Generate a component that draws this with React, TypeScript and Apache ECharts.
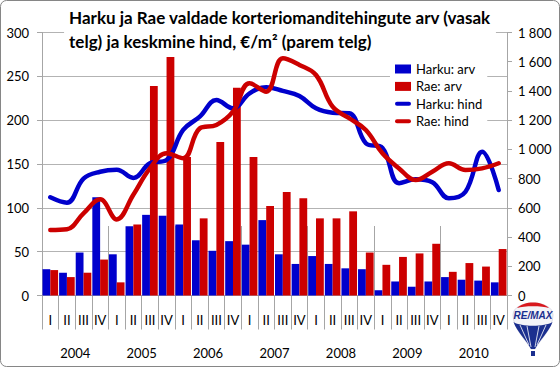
import React, { useEffect, useRef } from 'react';
import * as echarts from 'echarts';

const quarters = ['I','II','III','IV','I','II','III','IV','I','II','III','IV','I','II','III','IV','I','II','III','IV','I','II','III','IV','I','II','III','IV'];
const years = ['2004','2005','2006','2007','2008','2009','2010'];
const harkuArv = [30,26,49,112,47,79,92,91,81,63,51,62,58,86,47,36,45,36,31,30,6,16,10,16,21,18,17,15];
const raeArv = [29,21,26,41,15,81,239,272,158,88,175,237,158,102,118,111,88,88,96,49,35,44,48,59,27,37,33,53];
const harkuHind = [672,635,800,847,860,805,905,927,1133,1224,1338,1281,1384,1425,1400,1365,1281,1251,1247,1042,1010,768,795,775,665,710,984,722];
const raeHind = [448,453,562,658,521,690,870,973,939,1144,1167,1258,1452,1395,1623,1578,1509,1292,1213,1133,973,870,790,847,905,859,870,905];

const FONT = 'Lato';
const BLUE = '#0000CC';
const RED = '#CC0000';
const LINE_ICON = 'path://M2,0 L14,0 A2,2 0 0 1 14,4 L2,4 A2,2 0 0 1 2,0 Z';

let registered = false;
function registerShapes() {
  if (registered) return;
  registered = true;
  echarts.graphic.registerShape('balloonBody', echarts.graphic.extendPath('M -20 14 C -20 -2 20 -2 20 14 C 20 28 6 40 2 48 L -2 48 C -6 40 -20 28 -20 14 Z', {}));
  echarts.graphic.registerShape('balloonCap', echarts.graphic.extendPath('M -16 7 C -9 -0.5 9 -0.5 16 7 C 9 4.5 -9 4.5 -16 7 Z', {}));
  echarts.graphic.registerShape('balloonLow', echarts.graphic.extendPath('M -19.5 21 C -12 26 12 26 19.5 21 C 16 31 6 40 2 48 L -2 48 C -6 40 -16 31 -19.5 21 Z', {}));
}

function fmtRight(v: number) {
  if (v >= 1000) return Math.floor(v / 1000) + ' ' + String(v % 1000).padStart(3, '0');
  return String(v);
}

export default function App() {
  const ref = useRef<HTMLDivElement>(null);
  useEffect(() => {
    if (!ref.current) return;
    registerShapes();
    const chart = echarts.init(ref.current, null, { renderer: 'svg' });
    const axisColor = '#a6a6a6';
    chart.setOption({
      animation: false,
      textStyle: { fontFamily: FONT },
      title: {
        text: 'Harku ja Rae valdade korteriomanditehingute arv (vasak\ntelg) ja keskmine hind, €/m² (parem telg)',
        left: 'center',
        top: 5,
        padding: [0, 5, 0, 5],
        backgroundColor: '#fff',
        textStyle: { fontFamily: FONT, fontSize: 17, fontWeight: 'bold', color: '#000', lineHeight: 24, align: 'center' },
        textAlign: 'left',
      },
      legend: {
        orient: 'vertical',
        left: 390,
        top: 59,
        padding: [3, 5, 3, 5],
        backgroundColor: '#fff',
        itemWidth: 16,
        itemHeight: 9,
        itemGap: 3.4,
        textStyle: { fontFamily: FONT, fontSize: 13, color: '#000', lineHeight: 14 },
        data: [
          { name: 'Harku: arv', icon: 'rect' },
          { name: 'Rae: arv', icon: 'rect' },
          { name: 'Harku: hind', icon: LINE_ICON, itemStyle: { color: BLUE } },
          { name: 'Rae: hind', icon: LINE_ICON, itemStyle: { color: RED } },
        ],
      },
      grid: { left: 42, right: 53, top: 32.5, bottom: 71.5 },
      xAxis: [
        {
          type: 'category',
          data: quarters,
          axisLine: { show: true, lineStyle: { color: axisColor } },
          axisTick: { show: true, alignWithLabel: false, interval: 0, length: 34, lineStyle: { color: axisColor } },
          axisLabel: { interval: 0, margin: 18, fontSize: 13, color: '#000', fontFamily: FONT },
        },
        {
          type: 'category',
          data: years,
          position: 'bottom',
          offset: 69.5,
          axisLine: { show: false },
          axisTick: { show: true, inside: true, alignWithLabel: false, interval: 0, length: 69.5, lineStyle: { color: axisColor } },
          axisLabel: { inside: true, interval: 0, margin: 6, fontSize: 13, color: '#000', fontFamily: FONT },
        },
      ],
      yAxis: [
        {
          type: 'value',
          min: 0,
          max: 300,
          interval: 50,
          axisLine: { show: true, lineStyle: { color: axisColor } },
          axisTick: { show: true, length: 5, lineStyle: { color: axisColor } },
          axisLabel: { fontSize: 13, color: '#000', margin: 13, fontFamily: FONT },
          splitLine: { show: true, lineStyle: { color: '#b3b3b3' } },
        },
        {
          type: 'value',
          min: 0,
          max: 1800,
          interval: 200,
          position: 'right',
          axisLine: { show: true, lineStyle: { color: axisColor } },
          axisTick: { show: true, length: 5, lineStyle: { color: axisColor } },
          axisLabel: { fontSize: 13, color: '#000', margin: 11, fontFamily: FONT, formatter: fmtRight },
          splitLine: { show: false },
        },
      ],
      series: [
        { name: 'Harku: arv', type: 'bar', data: harkuArv, xAxisIndex: 0, yAxisIndex: 0, barGap: '0%', barCategoryGap: '6%', itemStyle: { color: BLUE } },
        { name: 'Rae: arv', type: 'bar', data: raeArv, xAxisIndex: 0, yAxisIndex: 0, barGap: '0%', barCategoryGap: '6%', itemStyle: { color: RED } },
        { name: 'Harku: hind', type: 'line', data: harkuHind, xAxisIndex: 0, yAxisIndex: 1, smooth: 0.4, symbol: 'none', showSymbol: false, lineStyle: { color: BLUE, width: 4.5, cap: 'round' }, itemStyle: { color: BLUE } },
        { name: 'Rae: hind', type: 'line', data: raeHind, xAxisIndex: 0, yAxisIndex: 1, smooth: 0.4, symbol: 'none', showSymbol: false, lineStyle: { color: RED, width: 4.5, cap: 'round' }, itemStyle: { color: RED } },
      ],
      graphic: [
        { type: 'rect', shape: { x: 0.5, y: 0.5, width: 559, height: 366, r: 6 }, style: { fill: 'none', stroke: '#868686', lineWidth: 1 }, z: 100 },
        {
          type: 'group',
          x: 533,
          y: 301,
          z: 100,
          children: [
            { type: 'balloonBody', style: { fill: '#f4f4f8', stroke: '#c8c8d8', lineWidth: 0.6 } },
            { type: 'balloonCap', style: { fill: '#d8181e' } },
            { type: 'balloonLow', style: { fill: '#1b2f8f' } },
            { type: 'line', shape: { x1: -6, y1: 25, x2: -2, y2: 46 }, style: { stroke: '#ffffff', lineWidth: 0.8 } },
            { type: 'line', shape: { x1: 6, y1: 25, x2: 2, y2: 46 }, style: { stroke: '#ffffff', lineWidth: 0.8 } },
            { type: 'line', shape: { x1: -13, y1: 24, x2: -4, y2: 44 }, style: { stroke: '#ffffff', lineWidth: 0.8 } },
            { type: 'line', shape: { x1: 13, y1: 24, x2: 4, y2: 44 }, style: { stroke: '#ffffff', lineWidth: 0.8 } },
            { type: 'rect', shape: { x: -2, y: 50, width: 4, height: 5 }, style: { fill: '#1b2f8f' } },
            { type: 'text', x: 0, y: 14, style: { text: 'RE/MAX', fill: '#1b2f8f', font: 'italic bold 10px "Liberation Sans"', align: 'center', verticalAlign: 'middle' } },
          ],
        },
      ],
    });
    return () => chart.dispose();
  }, []);
  return <div ref={ref} style={{ position: 'fixed', left: 0, top: 0, width: 560, height: 367, background: '#fff' }} />;
}
